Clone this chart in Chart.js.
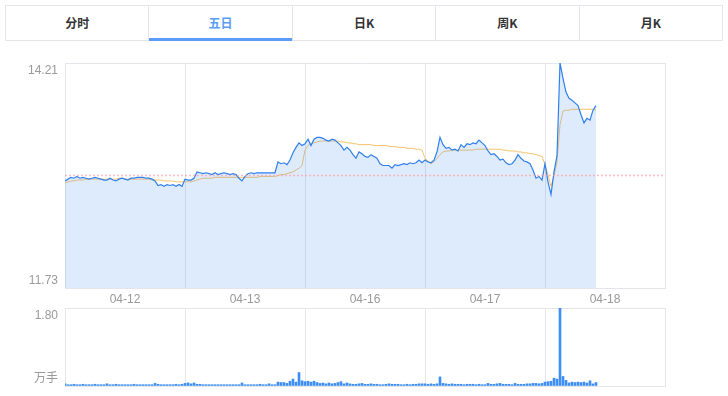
<!DOCTYPE html>
<html>
<head>
<meta charset="utf-8">
<script src="https://cdn.jsdelivr.net/npm/chart.js@4.4.1/dist/chart.umd.min.js"></script>
<style>
  body { margin: 0; background: #fff; width: 728px; height: 396px; overflow: hidden; position: relative; }
  .tabs { position: absolute; left: 5px; top: 5px; width: 718px; height: 36px; border: 1px solid #e3e6ea; box-sizing: border-box; display: flex; }
  .tab { flex: 1; text-align: center; line-height: 34px; font-size: 12px; font-weight: bold; color: #333; border-left: 1px solid #e3e6ea; font-family: "Noto Sans CJK SC", sans-serif; position: relative; }
  .tab:first-child { border-left: none; }
  .tab.active { color: #5b9cf6; }
  .tab.active:after { content: ""; position: absolute; left: 0; right: 0; bottom: -1px; height: 3px; background: #5b9cf6; }
  #priceWrap { position: absolute; left: 0; top: 50px; width: 728px; height: 258px; }
  #volWrap { position: absolute; left: 0; top: 300px; width: 728px; height: 88px; }
</style>
</head>
<body>
<div class="tabs">
  <div class="tab">分时</div>
  <div class="tab active">五日</div>
  <div class="tab">日K</div>
  <div class="tab">周K</div>
  <div class="tab">月K</div>
</div>
<div id="priceWrap"><canvas id="priceChart"></canvas></div>
<div id="volWrap"><canvas id="volChart"></canvas></div>

<script>
// trading days shown on the axis
const categories = ["04-12", "04-13", "04-16", "04-17", "04-18"];
const prevClose = 12.97;
const priceAxisLabels = ["14.21", "11.73"];
const volAxisLabels = ["1.80", "万手"];

// price, sampled every 6 minutes (40 per day)
const price0412 = [12.91,12.93,12.95,12.94,12.96,12.94,12.95,12.94,12.93,12.94,12.95,12.94,12.93,12.92,12.92,12.94,12.92,12.91,12.93,12.94,
  12.93,12.92,12.94,12.94,12.95,12.95,12.95,12.94,12.94,12.93,12.91,12.86,12.87,12.85,12.87,12.86,12.87,12.85,12.87,12.85];
const price0413 = [12.93,12.92,12.92,12.94,13.01,13.00,12.99,13.00,12.99,12.98,13.00,12.98,12.99,13.00,12.99,12.98,12.99,12.98,12.94,12.91,
  12.96,12.99,13.00,12.99,13.00,13.00,13.00,13.00,13.00,13.00,13.00,13.12,13.10,13.11,13.09,13.14,13.22,13.28,13.33,13.30];
const price0416 = [13.32,13.37,13.30,13.37,13.39,13.39,13.38,13.36,13.35,13.37,13.36,13.33,13.30,13.25,13.28,13.25,13.20,13.16,13.23,13.21,
  13.18,13.17,13.20,13.18,13.16,13.10,13.08,13.08,13.08,13.05,13.09,13.08,13.09,13.10,13.09,13.11,13.10,13.11,13.14,13.11];
const price0417 = [13.14,13.12,13.11,13.14,13.23,13.39,13.31,13.27,13.28,13.25,13.26,13.24,13.31,13.28,13.32,13.31,13.33,13.32,13.36,13.33,
  13.30,13.24,13.20,13.21,13.18,13.14,13.15,13.11,13.09,13.10,13.14,13.20,13.16,13.13,13.12,13.10,13.03,12.94,12.96,12.92];
const price0418 = [13.10,12.90,12.76,13.01,13.19,14.21,14.04,13.89,13.82,13.80,13.77,13.74,13.64,13.55,13.60,13.58,13.69,13.74];

// average price line
const avg0412 = [12.89,12.90,12.91,12.91,12.92,12.92,12.92,12.93,12.93,12.93,12.93,12.93,12.93,12.93,12.93,12.93,12.93,12.93,12.94,12.94,
  12.93,12.93,12.93,12.93,12.93,12.93,12.93,12.93,12.93,12.92,12.92,12.92,12.92,12.91,12.91,12.91,12.91,12.90,12.90,12.90];
const avg0413 = [12.90,12.90,12.90,12.91,12.92,12.93,12.94,12.94,12.94,12.94,12.95,12.95,12.95,12.95,12.95,12.95,12.95,12.95,12.95,12.95,
  12.95,12.95,12.95,12.95,12.95,12.96,12.96,12.96,12.96,12.96,12.96,12.97,12.98,12.98,12.99,13.00,13.01,13.03,13.05,13.08];
const avg0416 = [13.25,13.30,13.32,13.33,13.34,13.35,13.35,13.35,13.35,13.35,13.35,13.35,13.34,13.34,13.33,13.33,13.32,13.32,13.31,13.31,
  13.31,13.31,13.31,13.30,13.30,13.30,13.30,13.30,13.29,13.29,13.29,13.28,13.28,13.28,13.27,13.27,13.27,13.26,13.26,13.25];
const avg0417 = [13.16,13.13,13.10,13.12,13.16,13.20,13.23,13.24,13.24,13.25,13.25,13.25,13.25,13.25,13.25,13.25,13.25,13.26,13.26,13.26,
  13.26,13.26,13.26,13.26,13.26,13.26,13.25,13.25,13.24,13.24,13.24,13.23,13.23,13.22,13.22,13.21,13.21,13.20,13.19,13.18];
const avg0418 = [13.09,12.98,12.85,12.96,13.12,13.53,13.68,13.69,13.69,13.70,13.70,13.70,13.70,13.70,13.70,13.70,13.70,13.69];

// volume in 万手
const vol0412 = [0.05,0.03,0.03,0.04,0.03,0.03,0.04,0.03,0.03,0.03,0.04,0.03,0.03,0.03,0.05,0.03,0.03,0.04,0.03,0.03,
  0.03,0.03,0.03,0.04,0.03,0.03,0.03,0.03,0.03,0.03,0.06,0.04,0.03,0.03,0.03,0.03,0.03,0.04,0.03,0.04];
const vol0413 = [0.06,0.07,0.05,0.07,0.04,0.04,0.03,0.03,0.03,0.03,0.03,0.03,0.03,0.03,0.03,0.03,0.03,0.03,0.03,0.07,
  0.03,0.03,0.03,0.03,0.03,0.04,0.03,0.03,0.05,0.03,0.03,0.09,0.08,0.08,0.06,0.11,0.16,0.09,0.31,0.12];
const vol0416 = [0.10,0.11,0.09,0.11,0.08,0.06,0.07,0.05,0.07,0.05,0.06,0.08,0.10,0.05,0.07,0.05,0.04,0.04,0.05,0.06,
  0.04,0.04,0.05,0.04,0.04,0.03,0.03,0.04,0.05,0.04,0.04,0.04,0.03,0.03,0.04,0.03,0.04,0.04,0.05,0.05];
const vol0417 = [0.05,0.04,0.05,0.04,0.05,0.21,0.06,0.05,0.04,0.05,0.04,0.04,0.04,0.03,0.04,0.04,0.04,0.03,0.04,0.03,
  0.03,0.06,0.04,0.04,0.05,0.06,0.04,0.04,0.04,0.03,0.06,0.04,0.04,0.04,0.05,0.05,0.06,0.06,0.05,0.06];
const vol0418 = [0.09,0.10,0.11,0.18,0.16,1.80,0.22,0.13,0.07,0.09,0.08,0.09,0.08,0.09,0.07,0.12,0.05,0.08];

const SLOTS = 40; // samples per trading day
const gridColor = "#e3e6ea";
const tickFont = { family: "'Liberation Sans', 'Noto Sans CJK SC', sans-serif", size: 12 };

// turn per-day arrays into {x, y} points on one linear axis
function toPoints(days) {
  const pts = [];
  days.forEach((arr, d) => arr.forEach((v, i) => pts.push({ x: d * SLOTS + i, y: v })));
  return pts;
}

const xMax = categories.length * SLOTS;

function xScale(showLabels) {
  return {
    type: "linear",
    min: 0,
    max: xMax,
    offset: false,
    ticks: {
      display: showLabels,
      stepSize: SLOTS / 2,
      autoSkip: false,
      maxRotation: 0,
      padding: 4,
      color: "#999",
      font: tickFont,
      callback: (v) => (v % SLOTS === SLOTS / 2 ? categories[(v - SLOTS / 2) / SLOTS] : ""),
    },
    grid: {
      offset: false,
      drawTicks: false,
      color: (ctx) => (ctx.tick && ctx.tick.value % SLOTS === 0 ? gridColor : "rgba(0,0,0,0)"),
    },
    border: { color: gridColor },
    afterFit: (s) => {
      s.height = showLabels ? 20 : 0;
      s.paddingLeft = 0;
      s.paddingRight = 0;
    },
  };
}

function yScale(min, max, topLabel, bottomLabel) {
  return {
    min: min,
    max: max,
    afterBuildTicks: (s) => {
      s.ticks = [{ value: min }, { value: max }];
    },
    ticks: {
      padding: 7,
      color: "#999",
      font: tickFont,
      // two-line labels push the text inside the plot's vertical range
      callback: (v) => (v === max ? ["", topLabel] : [bottomLabel, ""]),
    },
    grid: { drawTicks: false, color: gridColor },
    border: { color: gridColor },
    afterFit: (s) => {
      s.width = 65;
      s.paddingTop = 0;
      s.paddingBottom = 0;
    },
  };
}

document.addEventListener("DOMContentLoaded", () => {
  const priceDays = [price0412, price0413, price0416, price0417, price0418];
  const avgDays = [avg0412, avg0413, avg0416, avg0417, avg0418];
  const volDays = [vol0412, vol0413, vol0416, vol0417, vol0418];

  new Chart(document.getElementById("priceChart"), {
    type: "line",
    data: {
      datasets: [
        {
          data: [{ x: 0, y: prevClose }, { x: xMax, y: prevClose }],
          borderColor: "rgba(255,160,160,0.7)",
          borderWidth: 1.5,
          borderDash: [2, 2],
          pointRadius: 0,
          fill: false,
        },
        {
          data: toPoints(priceDays),
          borderColor: "#2f80ee",
          borderWidth: 1.2,
          backgroundColor: "rgba(80,150,240,0.19)",
          fill: "start",
          pointRadius: 0,
          tension: 0,
        },
        {
          data: toPoints(avgDays),
          borderColor: "#f7c46c",
          borderWidth: 1,
          pointRadius: 0,
          fill: false,
          tension: 0,
        },
      ],
    },
    options: {
      responsive: true,
      maintainAspectRatio: false,
      animation: false,
      layout: { padding: { top: 13, right: 63, left: 0, bottom: 0 } },
      scales: {
        x: xScale(true),
        y: yScale(11.73, 14.21, priceAxisLabels[0], priceAxisLabels[1]),
      },
      plugins: { legend: { display: false }, tooltip: { enabled: false } },
    },
  });

  new Chart(document.getElementById("volChart"), {
    type: "bar",
    data: {
      datasets: [
        {
          data: toPoints(volDays),
          backgroundColor: "#3d8ef5",
          barThickness: 2,
        },
      ],
    },
    options: {
      responsive: true,
      maintainAspectRatio: false,
      animation: false,
      layout: { padding: { top: 8, right: 63, left: 0, bottom: 2 } },
      scales: {
        x: xScale(false),
        y: yScale(0, 1.8, volAxisLabels[0], volAxisLabels[1]),
      },
      plugins: { legend: { display: false }, tooltip: { enabled: false } },
    },
  });
});
</script>
</body>
</html>
